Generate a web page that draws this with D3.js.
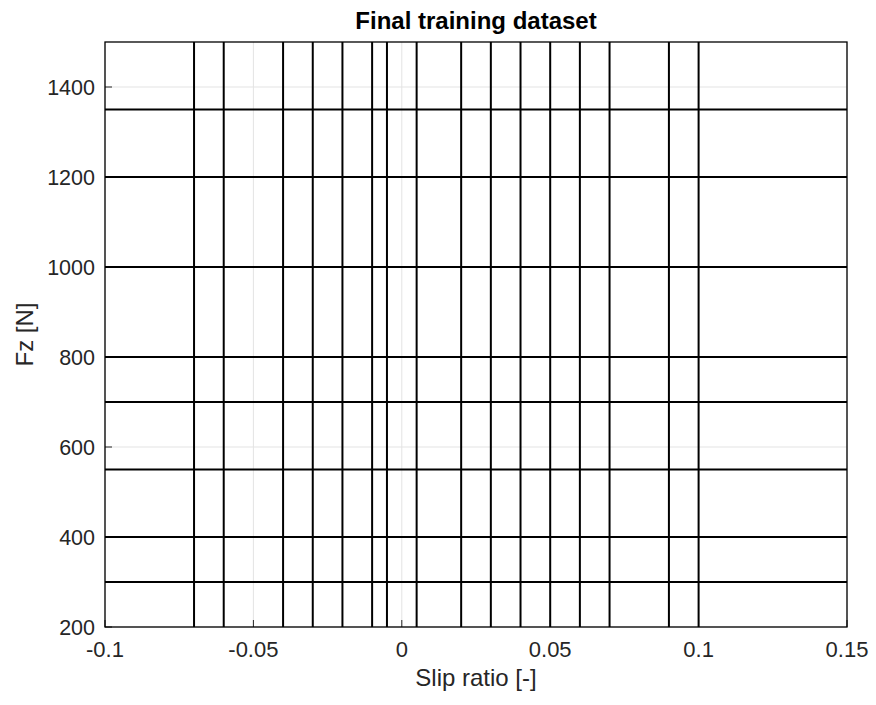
<!DOCTYPE html>
<html>
<head>
<meta charset="utf-8">
<script src="https://cdn.jsdelivr.net/npm/d3@7"></script>
<style>
  html, body { margin: 0; padding: 0; background: #fff; }
  svg { display: block; font-family: "Liberation Sans", Arial, Helvetica, sans-serif; }
</style>
</head>
<body>
<svg id="chart" width="876" height="705"></svg>
<script>
// Slip-ratio sweeps held at constant vertical load, and load sweeps at constant slip
const slipLevels = [-0.07, -0.06, -0.04, -0.03, -0.02, -0.01, -0.005, 0.005,
                    0.02, 0.03, 0.04, 0.05, 0.06, 0.07, 0.09, 0.1];
const fzLevels = [300, 400, 550, 700, 800, 1000, 1200, 1350];

// Sweep extents (each sweep covers the full range of the other variable)
const slipRange = [-0.1, 0.15];
const fzRange = [200, 1500];

// Axis ticks
const xTicks = [-0.1, -0.05, 0, 0.05, 0.1, 0.15];
const xTickLabels = ["-0.1", "-0.05", "0", "0.05", "0.1", "0.15"];
const yTicks = [200, 400, 600, 800, 1000, 1200, 1400];
const yTickLabels = ["200", "400", "600", "800", "1000", "1200", "1400"];

const titleText = "Final training dataset";
const xLabelText = "Slip ratio [-]";
const yLabelText = "Fz [N]";

const margin = { left: 105, right: 29, top: 42, bottom: 78 };
const W = 876, H = 705;
const iw = W - margin.left - margin.right;
const ih = H - margin.top - margin.bottom;

const svg = d3.select("#chart");
const x = d3.scaleLinear().domain(slipRange).range([0, iw]);
const y = d3.scaleLinear().domain(fzRange).range([ih, 0]);

const g = svg.append("g").attr("transform", `translate(${margin.left},${margin.top})`);

g.append("clipPath").attr("id", "plotClip")
  .append("rect").attr("width", iw).attr("height", ih);

// Grid
const grid = g.append("g").attr("class", "grid");
grid.selectAll(".gx").data(xTicks).join("line")
  .attr("x1", d => x(d)).attr("x2", d => x(d))
  .attr("y1", 0).attr("y2", ih)
  .attr("stroke", "#e3e3e3").attr("stroke-width", 1);
grid.selectAll(".gy").data(yTicks).join("line")
  .attr("x1", 0).attr("x2", iw)
  .attr("y1", d => y(d)).attr("y2", d => y(d))
  .attr("stroke", "#e3e3e3").attr("stroke-width", 1);

// Tick marks pointing inward
const tickLen = 7;
const tickColor = "#262626";
g.selectAll(".tx").data(xTicks).join("line")
  .attr("x1", d => x(d)).attr("x2", d => x(d))
  .attr("y1", ih).attr("y2", ih - tickLen)
  .attr("stroke", tickColor).attr("stroke-width", 1);
g.selectAll(".ty").data(yTicks).join("line")
  .attr("x1", 0).attr("x2", tickLen)
  .attr("y1", d => y(d)).attr("y2", d => y(d))
  .attr("stroke", tickColor).attr("stroke-width", 1);

// Data sweeps
const line = d3.line().x(d => x(d[0])).y(d => y(d[1]));
const data = g.append("g").attr("clip-path", "url(#plotClip)");
data.selectAll(".vsweep").data(slipLevels).join("path")
  .attr("d", s => line(fzRange.map(f => [s, f])))
  .attr("fill", "none").attr("stroke", "#000").attr("stroke-width", 2);
data.selectAll(".hsweep").data(fzLevels).join("path")
  .attr("d", f => line(slipRange.map(s => [s, f])))
  .attr("fill", "none").attr("stroke", "#000").attr("stroke-width", 2);

// Frame
g.append("rect").attr("width", iw).attr("height", ih)
  .attr("fill", "none").attr("stroke", "#000").attr("stroke-width", 1.3);

// Tick labels
g.selectAll(".xl").data(xTicks).join("text")
  .attr("x", d => x(d)).attr("y", ih + 30)
  .attr("text-anchor", "middle").attr("font-size", 22).attr("fill", tickColor)
  .text((d, i) => xTickLabels[i]);
g.selectAll(".yl").data(yTicks).join("text")
  .attr("x", -10).attr("y", d => y(d)).attr("dy", "0.36em")
  .attr("text-anchor", "end").attr("font-size", 21.5).attr("fill", tickColor)
  .text((d, i) => yTickLabels[i]);

// Axis labels and title
svg.append("text")
  .attr("x", margin.left + iw / 2).attr("y", 686)
  .attr("text-anchor", "middle").attr("font-size", 24).attr("fill", tickColor)
  .text(xLabelText);
svg.append("text")
  .attr("transform", `translate(33,${margin.top + ih / 2}) rotate(-90)`)
  .attr("text-anchor", "middle").attr("font-size", 24).attr("fill", tickColor)
  .text(yLabelText);
svg.append("text")
  .attr("x", margin.left + iw / 2).attr("y", 29)
  .attr("text-anchor", "middle").attr("font-size", 24).attr("font-weight", "bold")
  .attr("fill", "#000")
  .text(titleText);
</script>
</body>
</html>
